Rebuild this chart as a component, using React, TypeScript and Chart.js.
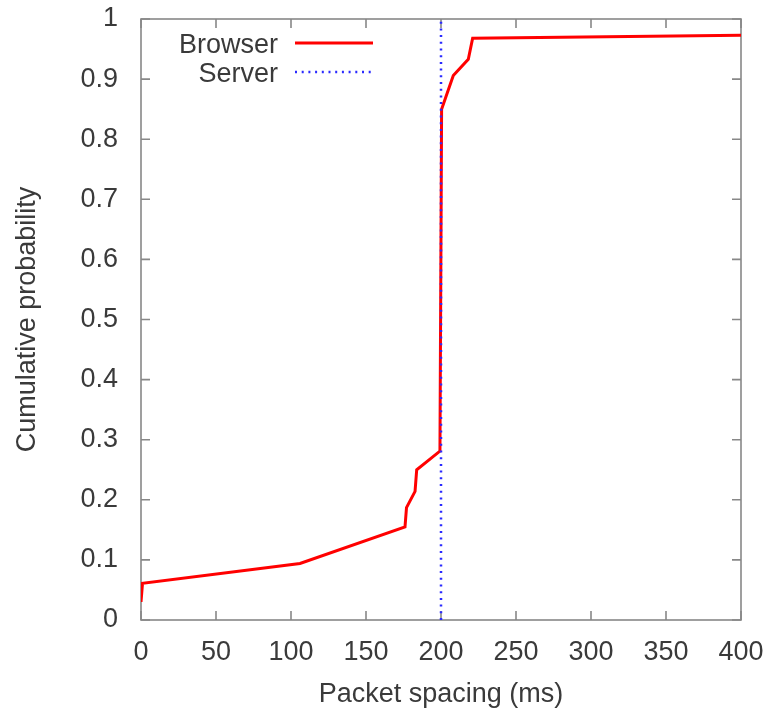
import React, { useEffect, useRef } from "react";
import { Chart, registerables } from "chart.js";

Chart.register(...registerables);

const browserX = [0, 1, 106, 176, 177, 182.7, 183.8, 199.3, 200.4, 208.2, 218.2, 221.1, 400];
const browserY = [0.03, 0.061, 0.094, 0.155, 0.187, 0.214, 0.25, 0.281, 0.85, 0.906, 0.933, 0.968, 0.973];
const serverX = [200, 200];
const serverY = [0, 1];
const seriesNames = ["Browser", "Server"];
const xTitle = "Packet spacing (ms)";
const yTitle = "Cumulative probability";

const FONT = "'Liberation Sans', Arial, sans-serif";
const TEXT = "#3a3a3a";
const FRAME = "#888888";
const RED = "#ff0000";
const BLUE = "#2a2aff";

const framePlugin = {
  id: "gnuplotFrame",
  beforeDatasetsDraw(chart: any) {
    const { ctx, chartArea } = chart;
    const { left, right, top, bottom } = chartArea;
    const xs = chart.scales.x;
    const ys = chart.scales.y;
    ctx.save();
    ctx.strokeStyle = FRAME;
    ctx.lineWidth = 1.6;
    ctx.strokeRect(left, top, right - left, bottom - top);
    const tl = 9;
    ctx.beginPath();
    xs.ticks.forEach((t: any) => {
      const px = xs.getPixelForValue(t.value);
      ctx.moveTo(px, bottom);
      ctx.lineTo(px, bottom - tl);
      ctx.moveTo(px, top);
      ctx.lineTo(px, top + tl);
    });
    ys.ticks.forEach((t: any) => {
      const py = ys.getPixelForValue(t.value);
      ctx.moveTo(left, py);
      ctx.lineTo(left + tl, py);
      ctx.moveTo(right, py);
      ctx.lineTo(right - tl, py);
    });
    ctx.stroke();
    ctx.restore();
  },
  afterDraw(chart: any) {
    const { ctx } = chart;
    ctx.save();
    ctx.font = `27px ${FONT}`;
    ctx.fillStyle = TEXT;
    ctx.textAlign = "right";
    ctx.textBaseline = "alphabetic";
    ctx.fillText(seriesNames[0], 278, 53);
    ctx.fillText(seriesNames[1], 278, 82);
    ctx.beginPath();
    ctx.strokeStyle = RED;
    ctx.lineWidth = 3;
    ctx.moveTo(295, 43);
    ctx.lineTo(373, 43);
    ctx.stroke();
    ctx.beginPath();
    ctx.strokeStyle = BLUE;
    ctx.lineWidth = 2.5;
    ctx.setLineDash([2, 4.7]);
    ctx.moveTo(295, 72);
    ctx.lineTo(373, 72);
    ctx.stroke();
    ctx.restore();
  },
};

export default function App() {
  const ref = useRef<HTMLCanvasElement | null>(null);
  useEffect(() => {
    if (!ref.current) return;
    const chart = new Chart(ref.current, {
      type: "scatter",
      data: {
        datasets: [
          {
            label: seriesNames[0],
            data: browserX.map((x, i) => ({ x, y: browserY[i] })),
            showLine: true,
            borderColor: RED,
            backgroundColor: RED,
            borderWidth: 3,
            pointRadius: 0,
            tension: 0,
            order: 2,
          },
          {
            label: seriesNames[1],
            data: serverX.map((x, i) => ({ x, y: serverY[i] })),
            showLine: true,
            borderColor: BLUE,
            backgroundColor: BLUE,
            borderWidth: 2.5,
            borderDash: [2, 4.7],
            pointRadius: 0,
            order: 1,
          },
        ],
      },
      options: {
        animation: false,
        responsive: true,
        maintainAspectRatio: false,
        layout: { padding: { top: 19, right: 32, left: 0, bottom: 0 } },
        plugins: { legend: { display: false }, tooltip: { enabled: false } },
        scales: {
          x: {
            type: "linear",
            min: 0,
            max: 400,
            grid: { display: false },
            border: { display: false },
            ticks: {
              stepSize: 50,
              padding: 8,
              color: TEXT,
              font: { family: FONT, size: 27 },
              maxRotation: 0,
              autoSkip: false,
            },
            title: {
              display: true,
              text: xTitle,
              color: TEXT,
              font: { family: FONT, size: 27 },
              padding: { top: 0, bottom: 0 },
            },
            afterFit: (s: any) => {
              s.height = 91;
              s.paddingLeft = 0;
              s.paddingRight = 0;
            },
          },
          y: {
            type: "linear",
            min: 0,
            max: 1,
            grid: { display: false },
            border: { display: false },
            ticks: {
              stepSize: 0.1,
              padding: 15,
              color: TEXT,
              font: { family: FONT, size: 27 },
              autoSkip: false,
              callback: (v: any) => String(parseFloat(Number(v).toFixed(1))),
            },
            title: {
              display: true,
              text: yTitle,
              color: TEXT,
              font: { family: FONT, size: 27 },
              padding: { top: 11, bottom: 0 },
            },
            afterFit: (s: any) => {
              s.width = 141;
              s.paddingTop = 0;
              s.paddingBottom = 0;
            },
          },
        },
      },
      plugins: [framePlugin],
    });
    return () => chart.destroy();
  }, []);
  return (
    <div style={{ position: "fixed", left: 0, top: 0, width: 773, height: 711, background: "#fff" }}>
      <canvas ref={ref} />
    </div>
  );
}
